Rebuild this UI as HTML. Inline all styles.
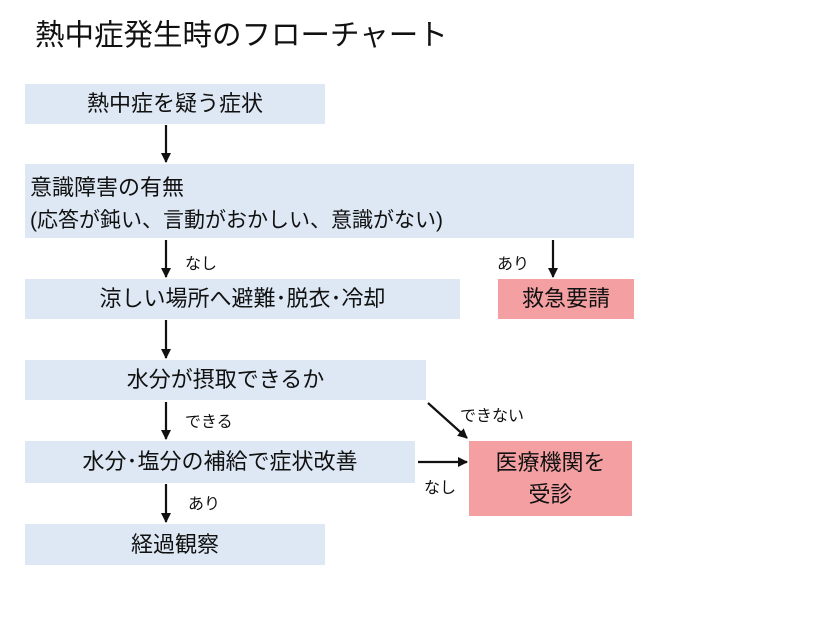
<!DOCTYPE html>
<html><head><meta charset="utf-8"><style>
body{margin:0;width:828px;height:622px;background:#fff;position:relative;overflow:hidden;font-family:"Liberation Sans","Noto Sans CJK JP",sans-serif;color:#111}
.b{position:absolute;background:#dde8f4;display:flex;align-items:center;justify-content:center;font-size:22px;line-height:32px}
.r{background:#f4a0a3}
.l{position:absolute;font-size:16px}
</style></head><body>
<div style="position:absolute;left:35px;top:12px;font-size:29.5px">熱中症発生時のフローチャート</div>
<div class="b" style="left:25px;top:84px;width:300px;height:40px">熱中症を疑う症状</div>
<div class="b" style="left:25px;top:164px;width:609px;height:74px;justify-content:flex-start;padding-left:5px;padding-top:6px;box-sizing:border-box"><div>意識障害の有無<br><span style="font-size:21px">(応答が鈍い、言動がおかしい、意識がない)</span></div></div>
<div class="b" style="left:25px;top:279px;width:435px;height:40px">涼しい場所へ避難･脱衣･冷却</div>
<div class="b r" style="left:498px;top:279px;width:136px;height:40px">救急要請</div>
<div class="b" style="left:25px;top:360px;width:401px;height:40px">水分が摂取できるか</div>
<div class="b" style="left:25px;top:441px;width:390px;height:42px">水分･塩分の補給で症状改善</div>
<div class="b r" style="left:469px;top:441px;width:163px;height:75px;text-align:center">医療機関を<br>受診</div>
<div class="b" style="left:25px;top:524px;width:300px;height:41px">経過観察</div>
<div class="l" style="left:185px;top:250px">なし</div>
<div class="l" style="left:497px;top:250px">あり</div>
<div class="l" style="left:185px;top:408px">できる</div>
<div class="l" style="left:460px;top:402px">できない</div>
<div class="l" style="left:424px;top:474px">なし</div>
<div class="l" style="left:188px;top:490px">あり</div>
<svg width="828" height="622" style="position:absolute;left:0;top:0">
<defs><marker id="a" markerWidth="10" markerHeight="10" refX="9" refY="5" orient="auto" markerUnits="userSpaceOnUse"><path d="M0,0L10,5L0,10z" fill="#111"/></marker></defs>
<g stroke="#111" stroke-width="2.2" marker-end="url(#a)">
<line x1="166" y1="125" x2="166" y2="162"/>
<line x1="166" y1="240" x2="166" y2="277"/>
<line x1="553" y1="240" x2="553" y2="277"/>
<line x1="166" y1="320" x2="166" y2="358"/>
<line x1="166" y1="402" x2="166" y2="439"/>
<line x1="428" y1="403" x2="467" y2="438"/>
<line x1="418" y1="462" x2="467" y2="462"/>
<line x1="166" y1="484" x2="166" y2="522"/>
</g></svg>
</body></html>
